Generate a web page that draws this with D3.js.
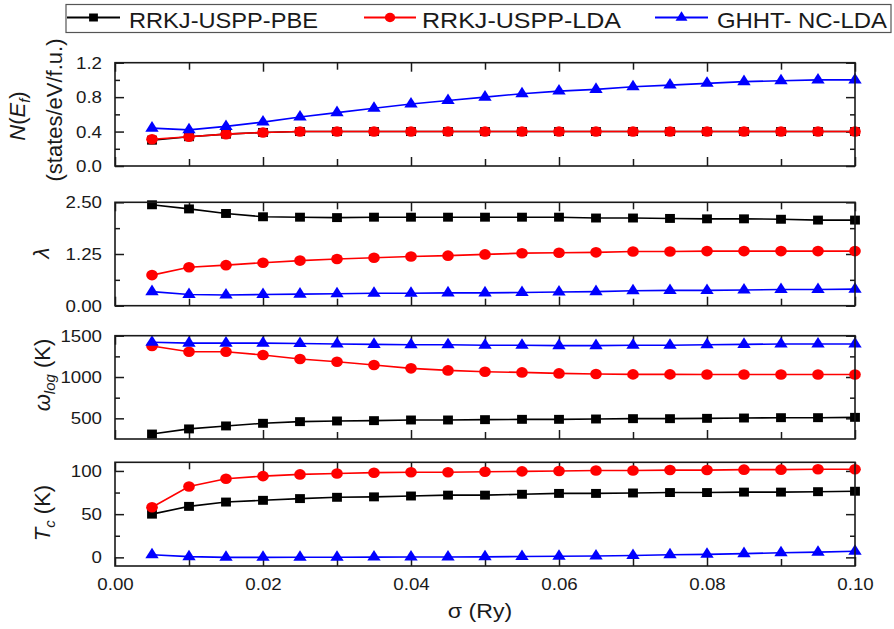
<!DOCTYPE html>
<html>
<head>
<meta charset="utf-8">
<script src="https://cdn.jsdelivr.net/npm/d3@7"></script>
<style>
  html, body { margin: 0; padding: 0; background: #fff; }
  svg { display: block; font-family: "Liberation Sans", Arial, sans-serif; }
</style>
</head>
<body>
<svg id="chart" width="894" height="629"></svg>
<script>
// ---------------- DATA ----------------
const sigma = [0.005, 0.010, 0.015, 0.020, 0.025, 0.030, 0.035, 0.040, 0.045, 0.050,
               0.055, 0.060, 0.065, 0.070, 0.075, 0.080, 0.085, 0.090, 0.095, 0.100];

const seriesNames = ["RRKJ-USPP-PBE", "RRKJ-USPP-LDA", "GHHT- NC-LDA"];
const seriesColors = ["#000000", "#ff0000", "#0000ff"];

// N(Ef) (states/eV/f.u.)
const nef_PBE = [0.30, 0.34, 0.37, 0.39, 0.40, 0.40, 0.40, 0.40, 0.40, 0.40,
                 0.40, 0.40, 0.40, 0.40, 0.40, 0.40, 0.40, 0.40, 0.40, 0.40];
const nef_LDA = [0.31, 0.34, 0.37, 0.39, 0.40, 0.40, 0.40, 0.40, 0.40, 0.40,
                 0.40, 0.40, 0.40, 0.40, 0.40, 0.40, 0.40, 0.40, 0.40, 0.40];
const nef_NC  = [0.44, 0.42, 0.46, 0.51, 0.57, 0.62, 0.67, 0.72, 0.76, 0.80,
                 0.84, 0.87, 0.89, 0.92, 0.94, 0.96, 0.98, 0.99, 1.00, 1.00];

// lambda
const lam_PBE = [2.44, 2.34, 2.23, 2.15, 2.14, 2.13, 2.14, 2.14, 2.14, 2.14,
                 2.14, 2.14, 2.12, 2.12, 2.11, 2.10, 2.10, 2.09, 2.07, 2.07];
const lam_LDA = [0.74, 0.93, 0.98, 1.04, 1.09, 1.13, 1.16, 1.19, 1.21, 1.24,
                 1.27, 1.28, 1.29, 1.31, 1.31, 1.32, 1.32, 1.32, 1.32, 1.32];
const lam_NC  = [0.34, 0.27, 0.26, 0.27, 0.28, 0.29, 0.30, 0.30, 0.31, 0.31,
                 0.32, 0.33, 0.34, 0.36, 0.37, 0.37, 0.38, 0.39, 0.39, 0.40];

// omega_log (K)
const wlog_PBE = [310, 372, 408, 440, 460, 468, 472, 480, 480, 484,
                  488, 488, 492, 496, 496, 500, 504, 508, 508, 512];
const wlog_LDA = [1375, 1306, 1306, 1266, 1218, 1185, 1145, 1105, 1080, 1064,
                  1056, 1044, 1037, 1032, 1032, 1030, 1030, 1030, 1030, 1030];
const wlog_NC  = [1420, 1410, 1410, 1410, 1405, 1400, 1395, 1390, 1390, 1385,
                  1385, 1380, 1380, 1385, 1385, 1390, 1395, 1400, 1400, 1400];

// Tc (K)
const tc_PBE = [50, 59, 64, 66, 68, 69.5, 70, 71, 72, 72,
                73, 74, 74, 74.5, 75, 75, 75.5, 75.5, 76, 76.5];
const tc_LDA = [58, 82, 91, 94, 96, 97, 98, 98.5, 98.5, 99,
                99.5, 100, 100.5, 100.5, 101, 101, 101.5, 101.5, 102, 102];
const tc_NC  = [3, 0.8, 0, 0, 0.2, 0.2, 0.3, 0.5, 0.5, 0.6,
                1, 1.2, 1.5, 2.2, 3, 3.5, 4.3, 5.3, 6, 7];

// Tick values
const xMajorTicks = [0.00, 0.02, 0.04, 0.06, 0.08, 0.10];
const xMinorTicks = [0.01, 0.03, 0.05, 0.07, 0.09];
const nefTicks = [0.0, 0.4, 0.8, 1.2];     const nefMinor = [0.2, 0.6, 1.0];
const lamTicks = [0.00, 1.25, 2.50];       const lamMinor = [0.625, 1.875];
const wlogTicks = [500, 1000, 1500];       const wlogMinor = [750, 1250];
const tcTicks = [0, 50, 100];              const tcMinor = [25, 75];

// ---------------- LAYOUT ----------------
const svg = d3.select("#chart");
const xL = 115, xR = 855;
const x = d3.scaleLinear().domain([0, 0.1]).range([xL, xR]);
const STRETCH = 1.1;

const panels = [
  { top: 62.7, bottom: 166, domain: [0, 1.2], major: nefTicks, minor: nefMinor,
    fmt: d3.format(".1f"), series: [nef_PBE, nef_LDA, nef_NC] },
  { top: 202.3, bottom: 305.7, domain: [0, 2.5], major: lamTicks, minor: lamMinor,
    fmt: d3.format(".2f"), series: [lam_PBE, lam_LDA, lam_NC] },
  { top: 335.7, bottom: 439, domain: [250, 1500], major: wlogTicks, minor: wlogMinor,
    fmt: d3.format("d"), series: [wlog_PBE, wlog_LDA, wlog_NC] },
  { top: 462.3, bottom: 566, domain: [-10, 110], major: tcTicks, minor: tcMinor,
    fmt: d3.format("d"), series: [tc_PBE, tc_LDA, tc_NC] }
];

const symbolTypes = [d3.symbolSquare, d3.symbolCircle, d3.symbolTriangle];
const symbolSizes = [80, 88, 64];

function stretchText(sel, k) {
  sel.each(function () {
    const len = this.getComputedTextLength();
    if (len > 0) {
      d3.select(this).attr("textLength", len * k).attr("lengthAdjust", "spacingAndGlyphs");
    }
  });
}

panels.forEach((p, pi) => {
  const y = d3.scaleLinear().domain(p.domain).range([p.bottom, p.top]);
  const g = svg.append("g");
  const tickStyle = sel => {
    sel.select(".domain").remove();
    sel.selectAll(".tick line").attr("stroke", "#1a1a1a").attr("stroke-width", 1.5);
    sel.selectAll("text").attr("font-size", 17).attr("fill", "#1a1a1a")
      .attr("font-family", "'Liberation Sans', Arial, sans-serif");
  };

  // y axes (left with labels, right without)
  g.append("g").attr("transform", `translate(${xL},0)`)
    .call(d3.axisLeft(y).tickValues(p.major).tickSize(-9).tickSizeOuter(0).tickPadding(13).tickFormat(p.fmt))
    .call(tickStyle);
  g.append("g").attr("transform", `translate(${xL},0)`)
    .call(d3.axisLeft(y).tickValues(p.minor).tickSize(-5).tickSizeOuter(0).tickFormat(""))
    .call(tickStyle);
  g.append("g").attr("transform", `translate(${xR},0)`)
    .call(d3.axisRight(y).tickValues(p.major).tickSize(-9).tickSizeOuter(0).tickFormat(""))
    .call(tickStyle);
  g.append("g").attr("transform", `translate(${xR},0)`)
    .call(d3.axisRight(y).tickValues(p.minor).tickSize(-5).tickSizeOuter(0).tickFormat(""))
    .call(tickStyle);

  // x axes (top and bottom, labels only on last)
  const isLast = pi === panels.length - 1;
  g.append("g").attr("transform", `translate(0,${p.top})`)
    .call(d3.axisTop(x).tickValues(xMajorTicks).tickSize(-9).tickSizeOuter(0).tickFormat(""))
    .call(tickStyle);
  g.append("g").attr("transform", `translate(0,${p.top})`)
    .call(d3.axisTop(x).tickValues(xMinorTicks).tickSize(-7).tickSizeOuter(0).tickFormat(""))
    .call(tickStyle);
  g.append("g").attr("transform", `translate(0,${p.bottom})`)
    .call(d3.axisBottom(x).tickValues(xMajorTicks).tickSize(-9).tickSizeOuter(0).tickPadding(12)
      .tickFormat(isLast ? d3.format(".2f") : ""))
    .call(tickStyle);
  g.append("g").attr("transform", `translate(0,${p.bottom})`)
    .call(d3.axisBottom(x).tickValues(xMinorTicks).tickSize(-7).tickSizeOuter(0).tickFormat(""))
    .call(tickStyle);

  stretchText(g.selectAll(".tick text"), STRETCH);

  // series
  p.series.forEach((vals, si) => {
    const pts = sigma.map((s, i) => [s, vals[i]]);
    g.append("path")
      .datum(pts)
      .attr("fill", "none")
      .attr("stroke", seriesColors[si])
      .attr("stroke-width", 1.6)
      .attr("d", d3.line().x(d => x(d[0])).y(d => y(d[1])));
    g.append("g").selectAll("path")
      .data(pts).join("path")
      .attr("transform", d => `translate(${x(d[0])},${y(d[1])}) scale(${STRETCH},1)`)
      .attr("d", d3.symbol().type(symbolTypes[si]).size(symbolSizes[si]))
      .attr("fill", seriesColors[si]);
  });

  // frame
  g.append("rect")
    .attr("x", xL).attr("y", p.top)
    .attr("width", xR - xL).attr("height", p.bottom - p.top)
    .attr("fill", "none").attr("stroke", "#1a1a1a").attr("stroke-width", 1.6);
});

// ---------------- AXIS TITLES ----------------
const titleFS = 22;
function rotTitle(xPos, yPos) {
  return svg.append("text")
    .attr("transform", `translate(${xPos},${yPos}) rotate(-90)`)
    .attr("text-anchor", "middle")
    .attr("font-size", titleFS)
    .attr("fill", "#1a1a1a");
}
// Panel 1
let t1 = rotTitle(25, 116);
t1.append("tspan").attr("font-style", "italic").text("N");
t1.append("tspan").text("(");
t1.append("tspan").attr("font-style", "italic").text("E");
t1.append("tspan").attr("font-style", "italic").attr("font-size", 15).attr("dy", 5).text("f");
t1.append("tspan").attr("dy", -5).text(")");
rotTitle(62, 110).text("(states/eV/f.u.)");
// Panel 2
rotTitle(49, 253).attr("font-style", "italic").text("λ");
// Panel 3
let t3 = rotTitle(50, 375);
t3.append("tspan").attr("font-style", "italic").text("ω");
t3.append("tspan").attr("font-style", "italic").attr("font-size", 15).attr("dy", 5).text("log");
t3.append("tspan").attr("dy", -5).text(" (K)");
// Panel 4
let t4 = rotTitle(50, 513);
t4.append("tspan").attr("font-style", "italic").text("T");
t4.append("tspan").attr("font-style", "italic").attr("font-size", 15).attr("dy", 5).text("c");
t4.append("tspan").attr("dy", -5).text(" (K)");

// x title
const xt = svg.append("text")
  .attr("x", 480).attr("y", 618)
  .attr("text-anchor", "middle")
  .attr("font-size", 21)
  .attr("fill", "#1a1a1a")
  .text("σ (Ry)");
stretchText(xt, STRETCH);

// ---------------- LEGEND ----------------
svg.append("rect")
  .attr("x", 66).attr("y", 4.5).attr("width", 825).attr("height", 28)
  .attr("fill", "#fff").attr("stroke", "#555").attr("stroke-width", 1.2);

const legLineX = [[67, 120], [364, 416], [655, 708]];
const legTextX = [129, 422, 717];
const legTextW = [189, 199, 170];
seriesNames.forEach((name, si) => {
  const lg = svg.append("g");
  lg.append("line")
    .attr("x1", legLineX[si][0]).attr("x2", legLineX[si][1])
    .attr("y1", 17.5).attr("y2", 17.5)
    .attr("stroke", seriesColors[si]).attr("stroke-width", 1.8);
  lg.append("path")
    .attr("transform", `translate(${(legLineX[si][0] + legLineX[si][1]) / 2},17.5) scale(${STRETCH},1)`)
    .attr("d", d3.symbol().type(symbolTypes[si]).size(symbolSizes[si] * 0.8))
    .attr("fill", seriesColors[si]);
  lg.append("text")
    .attr("x", legTextX[si]).attr("y", 28)
    .attr("font-size", 21.5)
    .attr("fill", "#1a1a1a")
    .attr("textLength", legTextW[si])
    .attr("lengthAdjust", "spacingAndGlyphs")
    .text(name);
});
</script>
</body>
</html>
